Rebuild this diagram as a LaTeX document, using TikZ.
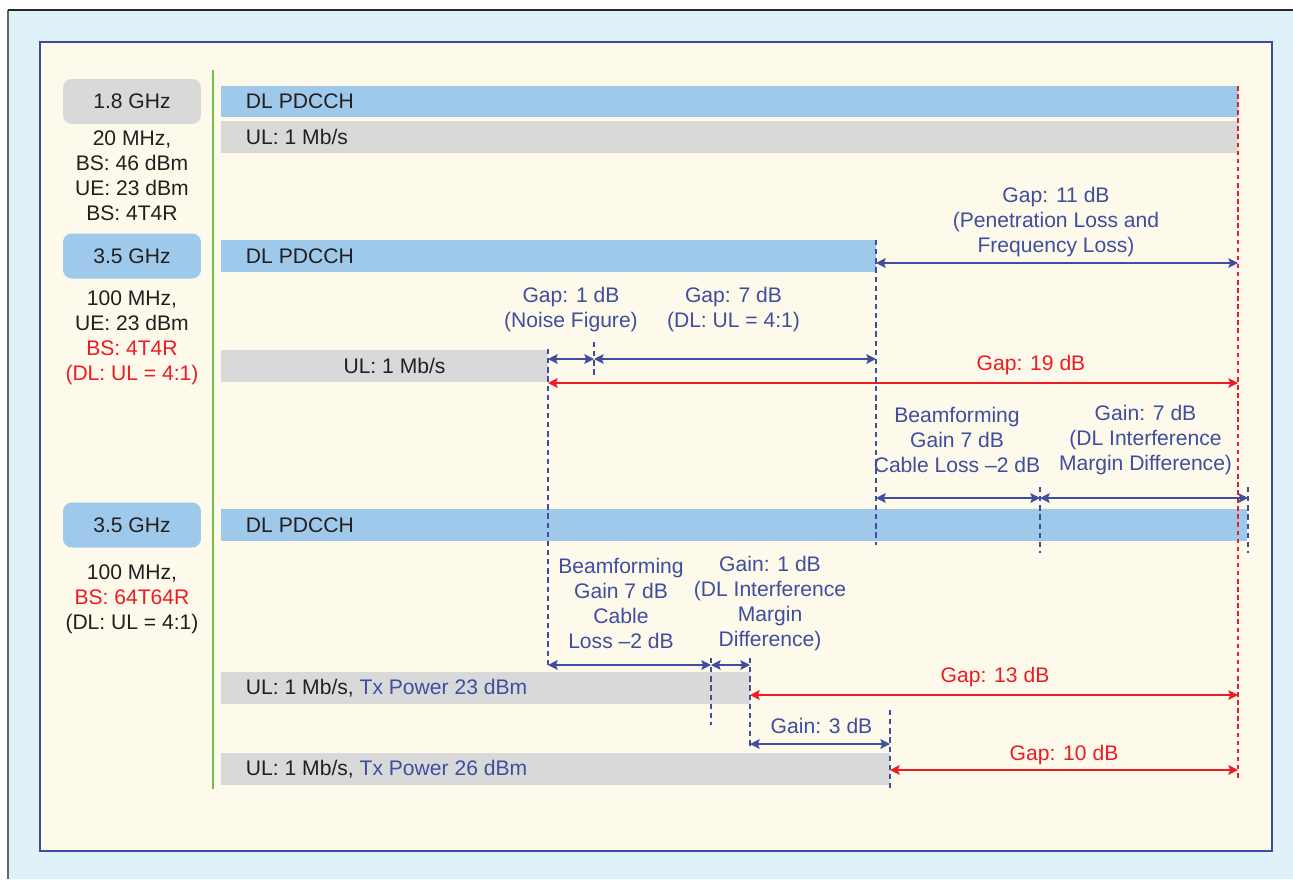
\documentclass[tikz,border=0pt]{standalone}
\usepackage{fontspec}
\setmainfont{Liberation Sans}
\usetikzlibrary{positioning,arrows.meta,fit}
\definecolor{skyback}{HTML}{DFF2FA}
\definecolor{cream}{HTML}{FDF9EB}
\definecolor{frameblue}{HTML}{3C4BA0}
\definecolor{dlblue}{HTML}{9FC9EA}
\definecolor{ulgray}{HTML}{D9D9D9}
\definecolor{txtblue}{HTML}{3F4E9F}
\definecolor{txtred}{HTML}{EC1C24}
\definecolor{txtdark}{HTML}{231F20}
\definecolor{railgreen}{HTML}{6CBE45}

\begin{document}
\begin{tikzpicture}[x=0.02cm, y=-0.02cm,
  every node/.style={font=\fontsize{12}{14.3}\selectfont, text=txtdark, inner sep=0pt},
  band/.style={rectangle, inner sep=0pt, draw=none},
  dl/.style={band, fill=dlblue},
  ul/.style={band, fill=ulgray},
  freq/.style={rounded corners=5pt, minimum width=2.76cm, minimum height=0.9cm},
  info/.style={align=center},
  note/.style={align=center, text=txtblue},
  rednote/.style={align=center, text=txtred},
  guide/.style={draw=txtblue, line width=1.6pt, dash pattern=on 3pt off 2.2pt},
  redguide/.style={draw=txtred, line width=1.5pt, dash pattern=on 2.6pt off 2pt},
  arr/.style={{Stealth[length=5.5pt,width=5.5pt,inset=1pt]}-{Stealth[length=5.5pt,width=5.5pt,inset=1pt]},
              line width=0.8pt, draw=txtblue},
  redarr/.style={arr, draw=txtred}]
\useasboundingbox (0,0) rectangle (1293,879);
% frame
\fill[skyback] (8,10) rectangle (1293,879);
\draw[black!60, line width=1.2pt] (8,879) -- (8,10);
\draw[black!85, line width=1.2pt] (8,10) -- (1293,10);
\draw[frameblue, fill=cream, line width=1pt] (40,42) rectangle (1272,851);
\draw[railgreen, line width=1.6pt] (213,70) -- (213,789);

% left column
\node[freq, fill=ulgray] (f18) at (132,101.5) {1.8 GHz};
\node[info] (f18info) at (132,176) {20 MHz,\\ BS: 46 dBm\\ UE: 23 dBm\\ BS: 4T4R};
\node[freq, fill=dlblue] (f35a) at (132,256) {3.5 GHz};
\node[info] (f35ainfo) at (132,338) {100 MHz,\\ UE: 23 dBm\\ \textcolor{txtred}{BS: 4T4R}\\ \textcolor{txtred}{(DL: UL = 4:1)}};
\node[freq, fill=dlblue] (f35b) at (132,525) {3.5 GHz};
\node[info] (f35binfo) at (132,599) {100 MHz,\\ \textcolor{txtred}{BS: 64T64R}\\ (DL: UL = 4:1)};

% bars
\node[dl, fit={(221,86)(1238,117)}] (dl1) {};
\node[ul, fit={(221,121)(1238,153)}] (ul1) {};
\node[dl, fit={(221,240)(876,272)}] (dl2) {};
\node[ul, fit={(221,350)(548,382)}] (ul2) {};
\node[dl, fit={(221,509)(1247,541)}] (dl3) {};
\node[ul, fit={(221,672)(750,704)}] (ul3) {};
\node[ul, fit={(221,753)(890,785)}] (ul4) {};
\node[anchor=west] (dl1txt) at ([xshift=0.5cm]dl1.west) {DL PDCCH};
\node[anchor=west] (ul1txt) at ([xshift=0.5cm]ul1.west) {UL: 1 Mb/s};
\node[anchor=west] (dl2txt) at ([xshift=0.5cm]dl2.west) {DL PDCCH};
\node (ul2txt) at ([xshift=0.2cm]ul2.center) {UL: 1 Mb/s};
\node[anchor=west] (dl3txt) at ([xshift=0.5cm]dl3.west) {DL PDCCH};
\node[anchor=west] (ul3txt) at ([xshift=0.5cm]ul3.west) {UL: 1 Mb/s, \textcolor{txtblue}{Tx Power 23 dBm}};
\node[anchor=west] (ul4txt) at ([xshift=0.5cm]ul4.west) {UL: 1 Mb/s, \textcolor{txtblue}{Tx Power 26 dBm}};

% guide lines
\draw[redguide] (1238,86) -- (1238,778);
\draw[guide] (876,240) -- (876,545);
\draw[guide] (548,349) -- (548,668);
\draw[guide] (594,342) -- (594,375);
\draw[guide] (1040,487) -- (1040,553);
\draw[guide] (1248,487) -- (1248,553);
\draw[guide] (711,658) -- (711,725);
\draw[guide] (750,658) -- (750,748);
\draw[guide] (890,710) -- (890,788);

% arrow ends
\coordinate (a1l) at (876,263);  \coordinate (a1r) at (1238,263);
\coordinate (a2l) at (548,359);  \coordinate (a2m) at (594,359);  \coordinate (a2r) at (876,359);
\coordinate (a3l) at (548,383);  \coordinate (a3r) at (1238,383);
\coordinate (a4l) at (876,498);  \coordinate (a4m) at (1040,498); \coordinate (a4r) at (1248,498);
\coordinate (a5l) at (548,665);  \coordinate (a5m) at (711,665);  \coordinate (a5r) at (750,665);
\coordinate (a6l) at (750,695);  \coordinate (a6r) at (1238,695);
\coordinate (a7l) at (750,744);  \coordinate (a7r) at (890,744);
\coordinate (a8l) at (890,770);  \coordinate (a8r) at (1238,770);
\draw[arr] (a1l) -- (a1r);
\draw[arr] (a2l) -- (a2m); \draw[arr] (a2m) -- (a2r);
\draw[redarr] (a3l) -- (a3r);
\draw[arr] (a4l) -- (a4m); \draw[arr] (a4m) -- (a4r);
\draw[arr] (a5l) -- (a5m); \draw[arr] (a5m) -- (a5r);
\draw[redarr] (a6l) -- (a6r);
\draw[arr] (a7l) -- (a7r);
\draw[redarr] (a8l) -- (a8r);

% labels
\node[note] (gap11) at (1056,222) {Gap: 11 dB\\ (Penetration Loss and\\ Frequency Loss)};
\node[note] (gap1) at (571,309.5) {Gap: 1 dB\\ (Noise Figure)};
\node[note] (gap7) at (733.5,309.5) {Gap: 7 dB\\ (DL: UL = 4:1)};
\node[rednote] (gap19) at (1031,365) {Gap: 19 dB};
\node[note] (bfa) at (957,440) {Beamforming\\ Gain 7 dB\\ Cable Loss --2 dB};
\node[note] (gain7) at (1145.5,440) {Gain: 7 dB\\ (DL Interference\\ Margin Difference)};
\node[note] (bfb) at (621,603.5) {Beamforming\\ Gain 7 dB\\ Cable\\ Loss --2 dB};
\node[note] (gain1) at (770,603.5) {Gain: 1 dB\\ (DL Interference\\ Margin\\ Difference)};
\node[rednote] (gap13) at (995,677) {Gap: 13 dB};
\node[note] (gain3) at (821.5,726) {Gain: 3 dB};
\node[rednote] (gap10) at (1064,755) {Gap: 10 dB};
\end{tikzpicture}
\end{document}
